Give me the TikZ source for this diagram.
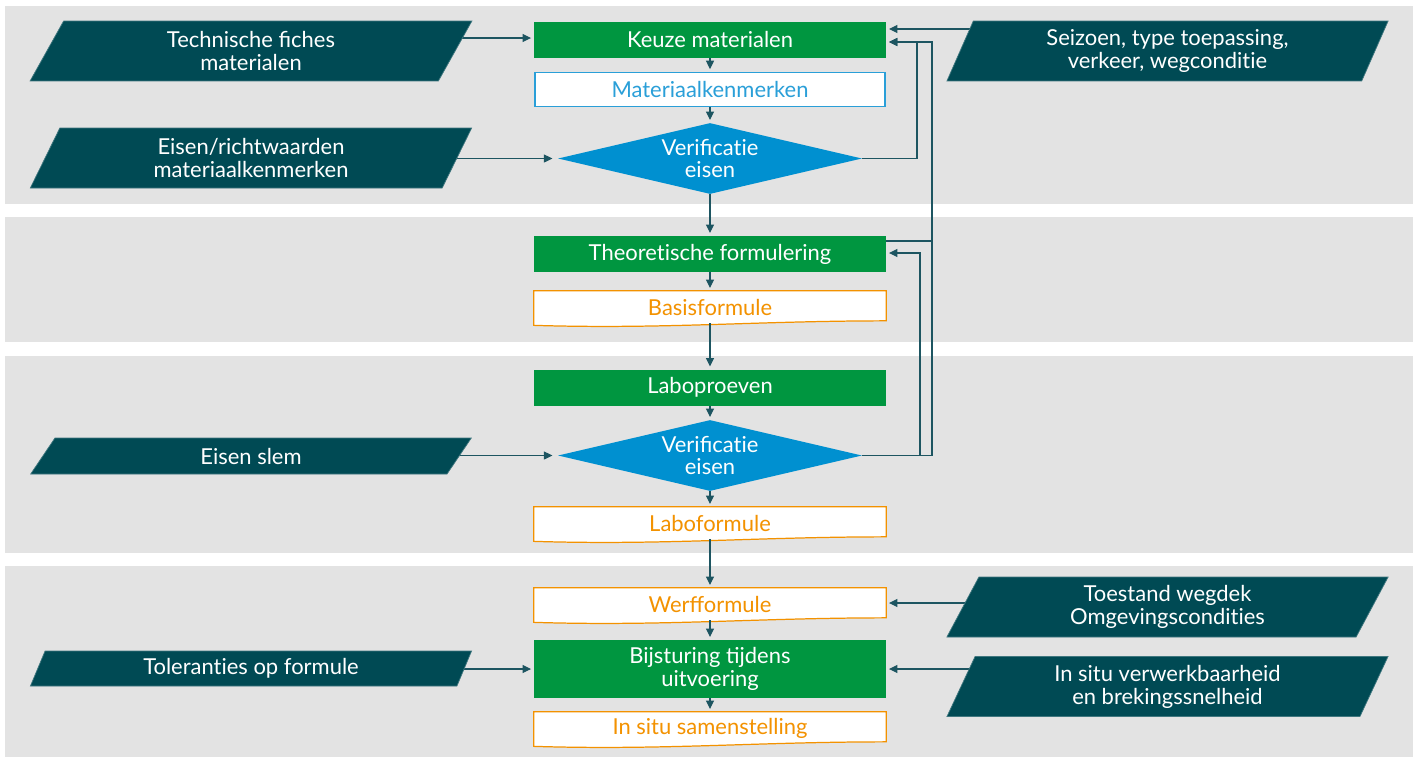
\documentclass[tikz,border=0pt]{standalone}
\usepackage{fontspec}
\setmainfont{Lato}
\usetikzlibrary{arrows.meta,shapes.geometric}
\pgfdeclarelayer{bands}
\pgfdeclarelayer{lines}
\pgfsetlayers{bands,lines,main}
\definecolor{band}{HTML}{E3E3E3}
\definecolor{stepgreen}{HTML}{009640}
\definecolor{checkblue}{HTML}{0090D0}
\definecolor{inputteal}{HTML}{004A54}
\definecolor{outorange}{HTML}{F39200}
\definecolor{propblue}{HTML}{2A9FD8}
\definecolor{flow}{HTML}{1D5561}
\newcommand{\nolig}{\kern0pt}

\begin{document}
\begin{tikzpicture}[x=0.02cm,y=-0.02cm,
	every node/.style={font=\fontsize{12.5}{13}\selectfont,align=center,inner sep=0pt},
	action/.style={rectangle,fill=stepgreen,text=white,minimum width=7.04cm,minimum height=0.72cm},
	prop/.style={rectangle,draw=propblue,line width=0.8pt,fill=white,text=propblue,minimum width=7cm,minimum height=0.68cm},
	result/.style={rectangle,text=outorange,minimum width=7.04cm,minimum height=0.64cm},
	check/.style={diamond,aspect=4.28,fill=checkblue,text=white,minimum width=6.08cm,minimum height=1.42cm},
	input/.style={trapezium,trapezium left angle=69,trapezium right angle=111,trapezium stretches=true,
		fill=inputteal,draw=inputteal!75!white,line width=0.4pt,text=white,minimum width=8.84cm,minimum height=1.2cm},
	flowline/.style={draw=flow,line width=0.6pt},
	flowarrow/.style={flowline,-{Triangle[length=1.7mm,width=1.6mm]},shorten >=1.5pt}]
	\useasboundingbox (0,0) rectangle (1416,758);

	% central column
	\node[action] (keuze) at (710,39.5) {Keuze materialen};
	\node[prop] (kenm) at (710,89.5) {Materiaalkenmerken};
	\node[check] (ver1) at (710,158.5) {Verificat\nolig ie\\eisen};
	\node[action] (theo) at (710,254) {Theoret\nolig ische formulering};
	\node[result] (basis) at (710,307) {Basisformule};
	\node[action] (labo) at (710,387.5) {Laboproeven};
	\node[check] (ver2) at (710,455.5) {Verificat\nolig ie\\eisen};
	\node[result] (laboform) at (710,523) {Laboformule};
	\node[result] (werf) at (710,604) {Werfformule};
	\node[action,minimum height=1.16cm] (bijst) at (710,669) {Bijsturing tijdens\\uitvoering};
	\node[result] (insitu) at (710,728) {In situ samenstelling};

	% inputs
	\node[input] (fiches) at (251,51) {Technische fiches\\materialen};
	\node[input] (eisenmat) at (251,158) {Eisen/richtwaarden\\materiaalkenmerken};
	\node[input,minimum height=0.72cm] (slem) at (251,456) {Eisen slem};
	\node[input,minimum height=0.7cm] (toler) at (251,668.5) {Tolerant\nolig ies op formule};
	\node[input] (seizoen) at (1167.5,51) {Seizoen, type toepassing,\\verkeer, wegcondit\nolig ie};
	\node[input] (toestand) at (1167.5,607) {Toestand wegdek\\Omgevingscondit\nolig ies};
	\node[input] (verwerk) at (1167.5,686.5) {In situ verwerkbaarheid\\en brekingssnelheid};

	\coordinate (inK) at (0,38);
	\coordinate (inS) at (0,29);
	\coordinate (inW) at (0,603);
	\coordinate (fbA) at (917,42);
	\coordinate (fbB) at (932,42);
	\coordinate (fbC) at (920,253);
	\coordinate (joinT) at (932,241);

	\begin{pgfonlayer}{bands}
		\foreach \t/\b in {6/204,217/342,356/553,566/757}
			\fill[band] (5,\t) rectangle (1413,\b);
	\end{pgfonlayer}

	\begin{pgfonlayer}{lines}
		% document shapes
		\foreach \n in {basis,laboform,werf,insitu}
			\filldraw[fill=white,draw=outorange,line width=0.7pt] (\n.north west) -- (\n.north east)
				-- ([yshift=0.05cm]\n.south east) .. controls +(-2.6cm,0) and +(2.6cm,-0.08cm) .. ([yshift=-0.04cm]\n.south west) -- cycle;
		% main flow
		\foreach \a/\b in {keuze/kenm,kenm/ver1,ver1/theo,theo/basis,basis/labo,labo/ver2,ver2/laboform,laboform/werf,werf/bijst,bijst/insitu}
			\draw[flowarrow] (\a.south) -- (\b.north);
		% inputs
		\draw[flowarrow] (fiches |- inK) -- (keuze.west |- inK);
		\draw[flowarrow,shorten >=3pt] (ver1.west -| eisenmat) -- (ver1.west);
		\draw[flowarrow] (seizoen |- inS) -- (keuze.east |- inS);
		\draw[flowarrow,shorten >=3pt] (ver2.west -| slem) -- (ver2.west);
		\draw[flowarrow] (toestand |- inW) -- (werf.east |- inW);
		\draw[flowarrow] (toler |- bijst) -- (bijst.west);
		\draw[flowarrow] (verwerk |- bijst) -- (bijst.east);
		% feedback
		\draw[flowarrow] (ver1.east) -| (fbA) -- (fbA -| keuze.east);
		\draw[flowarrow] (ver2.east) -| (fbB) -- (fbB -| keuze.east);
		\draw[flowline] (joinT -| theo.east) -- (joinT);
		\draw[flowarrow] (ver2.east) -| (fbC) -- (fbC -| theo.east);
	\end{pgfonlayer}
\end{tikzpicture}
\end{document}
